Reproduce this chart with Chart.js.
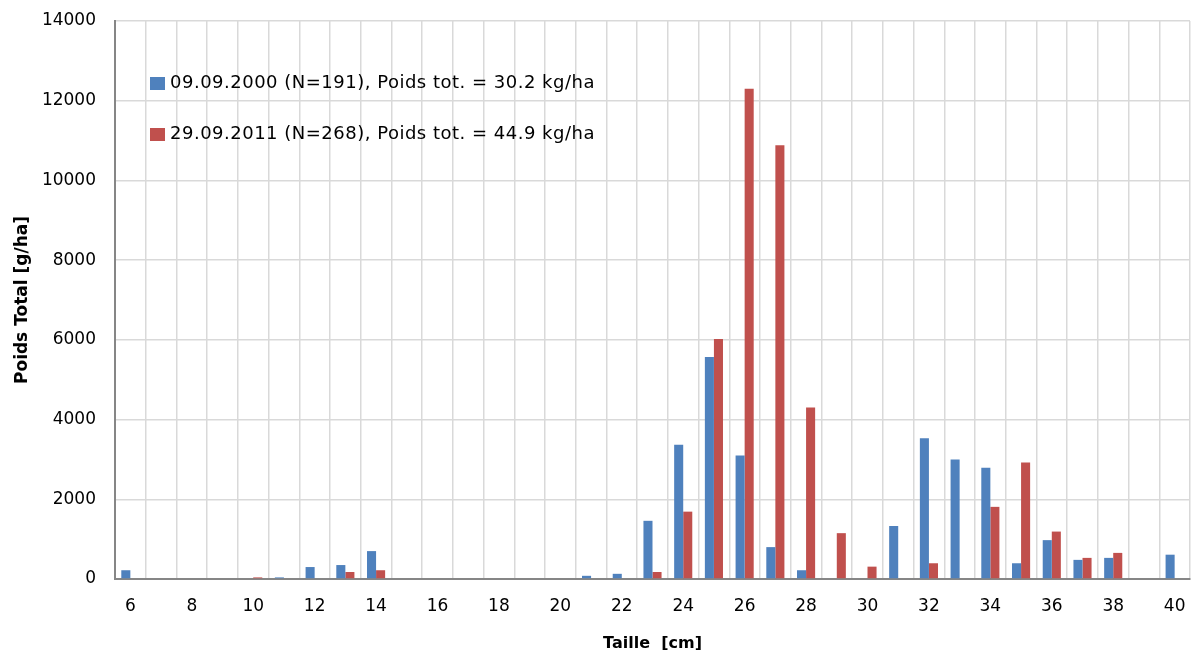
<!DOCTYPE html>
<html>
<head>
<meta charset="utf-8">
<script src="https://cdn.jsdelivr.net/npm/chart.js@4"></script>
<style>
    html, body { margin: 0; padding: 0; background: #fff; }
    #wrap { width: 1194px; height: 653px; }
</style>
</head>
<body>
<div id="wrap"><canvas id="chart" width="1194" height="653"></canvas></div>
<script>
// tailles (cm)
var tailles = [6, 7, 8, 9, 10, 11, 12, 13, 14, 15, 16, 17, 18, 19, 20, 21, 22, 23,
    24, 25, 26, 27, 28, 29, 30, 31, 32, 33, 34, 35, 36, 37, 38, 39, 40];
var poids2000 = [220, 0, 0, 0, 0, 40, 300, 350, 700, 0, 0, 0, 0, 0, 0, 80, 130, 1460,
    3370, 5570, 3100, 800, 220, 0, 0, 1330, 3530, 3000, 2790, 395, 975, 480, 530, 0, 610];
var poids2011 = [0, 0, 0, 0, 40, 0, 0, 175, 220, 0, 0, 0, 0, 0, 0, 0, 0, 175,
    1690, 6020, 12300, 10880, 4300, 1150, 310, 0, 395, 0, 1810, 2920, 1190, 530, 655, 0, 0];
var labels2000 = "09.09.2000 (N=191), Poids tot. = 30.2 kg/ha";
var labels2011 = "29.09.2011 (N=268), Poids tot. = 44.9 kg/ha";
var yTicks = [0, 2000, 4000, 6000, 8000, 10000, 12000, 14000];

var fontFam = "'DejaVu Sans', sans-serif";
var gridColor = "#d9d9d9";
var axisColor = "#868686";

// legend drawn inside the plot area, top left
var insideLegend = {
    id: "insideLegend",
    afterDatasetsDraw: function(chart) {
        var ctx = chart.ctx;
        var rows = [83, 134];
        ctx.save();
        ctx.font = "18px " + fontFam;
        ctx.letterSpacing = "0.5px";
        ctx.textBaseline = "middle";
        ctx.textAlign = "left";
        chart.data.datasets.forEach(function(ds, i) {
            ctx.fillStyle = ds.backgroundColor;
            ctx.fillRect(150, rows[i] - 6, 15, 13);
            ctx.fillStyle = "#000";
            ctx.fillText(ds.label, 170, rows[i]);
        });
        ctx.restore();
    }
};

var chart = new Chart(document.getElementById("chart").getContext("2d"), {
    type: "bar",
    data: {
        labels: tailles,
        datasets: [{
            label: labels2000,
            data: poids2000,
            backgroundColor: "#4f81bd",
            borderWidth: 0,
            barPercentage: 1.0,
            categoryPercentage: 0.59
        }, {
            label: labels2011,
            data: poids2011,
            backgroundColor: "#c0504d",
            borderWidth: 0,
            barPercentage: 1.0,
            categoryPercentage: 0.59
        }]
    },
    options: {
        responsive: false,
        animation: false,
        layout: { padding: { left: 0, right: 4, top: 21, bottom: 0 } },
        plugins: {
            legend: { display: false },
            tooltip: { enabled: false }
        },
        scales: {
            x: {
                grid: { offset: true, color: gridColor, lineWidth: 1.5, drawTicks: false },
                border: { color: axisColor, width: 2 },
                ticks: {
                    autoSkip: false,
                    maxRotation: 0,
                    padding: 17,
                    color: "#000",
                    font: { family: fontFam, size: 17 },
                    callback: function(v, i) { return i % 2 === 0 ? tailles[i] : ""; }
                },
                title: {
                    display: true,
                    text: "Taille  [cm]",
                    color: "#000",
                    font: { family: fontFam, size: 16, weight: "bold" },
                    padding: { top: 4, bottom: 0 }
                },
                afterFit: function(scale) {
                    scale.height = 74;
                    scale.paddingLeft = 0;
                    scale.paddingRight = 0;
                }
            },
            y: {
                min: 0,
                max: 14000,
                afterBuildTicks: function(scale) {
                    scale.ticks = yTicks.map(function(v) { return { value: v }; });
                },
                grid: { color: gridColor, lineWidth: 1.5, drawTicks: false },
                border: { color: axisColor, width: 2 },
                ticks: {
                    padding: 19,
                    color: "#000",
                    font: { family: fontFam, size: 17 },
                    callback: function(v) { return v; }
                },
                title: {
                    display: true,
                    text: "Poids Total [g/ha]",
                    color: "#000",
                    font: { family: fontFam, size: 17, weight: "bold" },
                    padding: { top: 12, bottom: 0 }
                },
                afterFit: function(scale) {
                    scale.width = 115;
                    scale.paddingTop = 0;
                    scale.paddingBottom = 0;
                }
            }
        }
    },
    plugins: [insideLegend]
});
</script>
</body>
</html>
